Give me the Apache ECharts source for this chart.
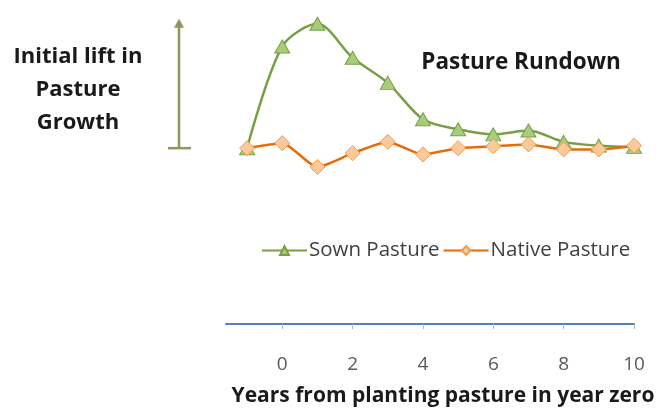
<!DOCTYPE html>
<html>
<head>
<meta charset="utf-8">
<script src="https://cdn.jsdelivr.net/npm/echarts@6/dist/echarts.min.js"></script>
<style>
  html, body { margin: 0; padding: 0; background: #ffffff; }
  #chart { width: 659px; height: 412px; }
</style>
</head>
<body>
<div id="chart"></div>
<script>
// Years relative to planting (year zero)
const years = [-1, 0, 1, 2, 3, 4, 5, 6, 7, 8, 9, 10];
// Relative growth lift, baseline = 0
const sownPasture   = [0, 81, 99, 72, 52, 23, 15, 11, 14, 5, 2, 1];
const nativePasture = [0, 4, -15, -4, 5, -5, 0, 1.5, 3, -1, -1, 2];
const xTickValues = [0, 2, 4, 6, 8, 10];

const FONT = '"Open Sans", "Noto Sans", sans-serif';

const pairs = (xs, ys) => xs.map((x, i) => [x, ys[i]]);

const chart = echarts.init(document.getElementById('chart'), null, { renderer: 'canvas' });

const option = {
  animation: false,
  backgroundColor: '#ffffff',
  grid: { left: 226, right: 25, top: 10, bottom: 77, containLabel: false },
  xAxis: {
    type: 'value',
    min: -1.6,
    max: 10,
    name: 'Years from planting pasture in year zero',
    nameLocation: 'middle',
    nameGap: 62,
    nameTextStyle: {
      fontFamily: FONT, fontWeight: 'bold', fontSize: 21, color: '#1a1a1a',
      padding: [0, 0, 0, 26]
    },
    axisLine: { show: true, onZero: false, lineStyle: { color: '#4f81bd', width: 2 } },
    axisTick: { show: true, customValues: xTickValues, length: 5, lineStyle: { color: '#a6b8cc', width: 1 } },
    axisLabel: { customValues: xTickValues, fontFamily: FONT, fontSize: 19, color: '#595959', margin: 31 },
    splitLine: { show: false }
  },
  yAxis: {
    type: 'value',
    min: -140,
    max: 110,
    show: false
  },
  legend: {
    left: 256,
    top: 235,
    itemGap: 3,
    itemWidth: 45,
    itemHeight: 11,
    textStyle: { fontFamily: FONT, fontSize: 20.5, color: '#404040', padding: [0, 0, 0, -3] },
    data: ['Sown Pasture', 'Native Pasture']
  },
  series: [
    {
      name: 'Sown Pasture',
      type: 'line',
      data: pairs(years, sownPasture),
      smooth: 0.3,
      symbol: 'triangle',
      symbolSize: [15, 13],
      clip: false,
      lineStyle: { color: '#77a045', width: 2.5 },
      itemStyle: { color: '#a9cc7a', borderColor: '#77a045', borderWidth: 1 },
      z: 2
    },
    {
      name: 'Native Pasture',
      type: 'line',
      data: pairs(years, nativePasture),
      smooth: 0.2,
      symbol: 'diamond',
      symbolSize: [15, 15],
      clip: false,
      lineStyle: { color: '#e46c0a', width: 2.5 },
      itemStyle: { color: '#fbc99a', borderColor: '#f29a4e', borderWidth: 1 },
      z: 3
    }
  ]
};

chart.setOption(option);

// Annotation: vertical arrow from the baseline up, labelled on the left,
// plus the chart heading inside the plot area.
const basePt = chart.convertToPixel({ gridIndex: 0 }, [-1, 0]);
const tipPt = chart.convertToPixel({ gridIndex: 0 }, [-1, 103]);
const arrowX = 179;
const arrowColor = '#8a9a5b';

chart.setOption({
  graphic: [
    {
      type: 'line',
      shape: { x1: arrowX, y1: basePt[1], x2: arrowX, y2: tipPt[1] + 6 },
      style: { stroke: arrowColor, lineWidth: 2.5 }
    },
    {
      type: 'line',
      shape: { x1: arrowX - 11, y1: basePt[1], x2: arrowX + 12, y2: basePt[1] },
      style: { stroke: arrowColor, lineWidth: 2.5 }
    },
    {
      type: 'polygon',
      shape: { points: [[arrowX - 5, tipPt[1] + 9], [arrowX, tipPt[1]], [arrowX + 5, tipPt[1] + 9]] },
      style: { fill: arrowColor }
    },
    {
      type: 'text',
      x: 78, y: 40,
      style: {
        text: 'Initial lift in\nPasture\nGrowth',
        fontFamily: FONT, fontWeight: 'bold', fontSize: 22,
        lineHeight: 33, fill: '#1a1a1a', align: 'center'
      }
    },
    {
      type: 'text',
      x: 521, y: 51,
      style: {
        text: 'Pasture Rundown',
        fontFamily: FONT, fontWeight: 'bold', fontSize: 22.5,
        fill: '#1a1a1a', align: 'center'
      }
    }
  ]
});
</script>
</body>
</html>
